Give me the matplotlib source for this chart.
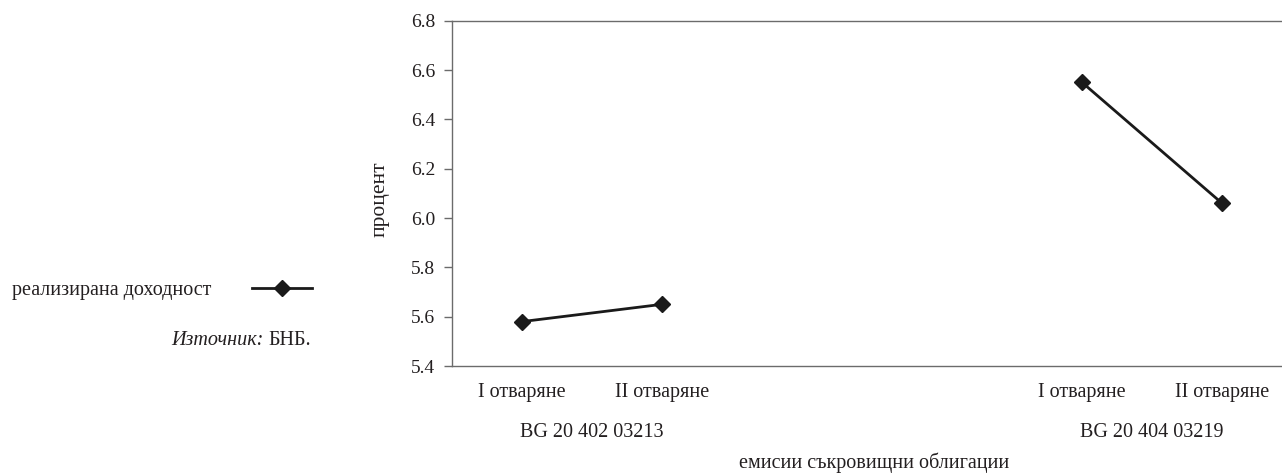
import matplotlib
matplotlib.use("Agg")
import matplotlib.pyplot as plt
import matplotlib.transforms as mtransforms
import numpy as np

# data
categories = ["I отваряне", "II отваряне", "", "", "I отваряне", "II отваряне"]
issue_labels = ["BG 20 402 03213", "BG 20 404 03219"]
issue_slots = [[0, 1], [4, 5]]
yield_values = [5.58, 5.65, np.nan, np.nan, 6.55, 6.06]
y_ticks = [5.4, 5.6, 5.8, 6.0, 6.2, 6.4, 6.6, 6.8]

series_label = "реализирана доходност"
y_title = "процент"
x_title = "емисии съкровищни облигации"

TEXT = "#231f20"
LINE = "#1a1a1a"
SPINE = "#6b6b6b"

plt.rcParams["font.family"] = ["Liberation Serif", "DejaVu Serif"]
plt.rcParams["font.size"] = 14.5
plt.rcParams["text.color"] = TEXT

W, H = 1282, 473
fig = plt.figure(figsize=(W / 100, H / 100), dpi=100)
# axes box in pixels: left 452, top 20.7, bottom 366, slot width 140
ax = fig.add_axes([452 / W, 1 - 366 / H, 840 / W, (366 - 20.7) / H])

x = np.arange(len(categories))
for slots in issue_slots:
    ax.plot(x[slots], np.array(yield_values)[slots], color=LINE, lw=2.0,
            marker="D", markersize=8, markerfacecolor=LINE, markeredgecolor=LINE,
            label=series_label if slots[0] == 0 else None)

ax.set_xlim(-0.5, len(categories) - 0.5)
ax.set_ylim(5.4, 6.8)
ax.set_yticks(y_ticks)
ax.set_yticklabels([f"{v:.1f}" for v in y_ticks])
ax.set_xticks([i for i, c in enumerate(categories) if c])
ax.set_xticklabels([c for c in categories if c])

ax.tick_params(axis="x", length=0, pad=12, labelcolor=TEXT, labelsize=14.5)
ax.tick_params(axis="y", direction="out", length=6, width=1, color=SPINE,
               pad=6, labelcolor=TEXT, labelsize=14)

ax.spines["right"].set_visible(False)
for side in ["left", "top", "bottom"]:
    ax.spines[side].set_color(SPINE)
    ax.spines[side].set_linewidth(1.0)

ax.set_ylabel(y_title, color=TEXT, fontsize=15.5)
ax.yaxis.set_label_coords(-(452 - 390) / 840, (366 - 199) / (366 - 20.7))

# issue names under each pair of openings
trans = mtransforms.blended_transform_factory(ax.transData, fig.transFigure)
for name, slots in zip(issue_labels, issue_slots):
    ax.text(np.mean(slots), 1 - 432 / H, name, transform=trans,
            ha="center", va="center", color=TEXT)

fig.text(874 / W, 1 - 463 / H, x_title, ha="center", va="center", color=TEXT)

# legend on the left, label before the marker
handles, labels = ax.get_legend_handles_labels()
fig.legend(handles, labels, loc="center left",
           bbox_to_anchor=(12 / W, 1 - 290 / H), frameon=False,
           borderaxespad=0, borderpad=0,
           markerfirst=False, handlelength=3.0, handletextpad=2.0)

src = fig.text(311 / W, 1 - 340 / H, "БНБ.", ha="right", va="center", color=TEXT)
ax.annotate("Източник: ", xy=(0, 0.5), xycoords=src, ha="right", va="center",
            style="italic", color=TEXT, annotation_clip=False)

fig.savefig("out.png", dpi=100)
